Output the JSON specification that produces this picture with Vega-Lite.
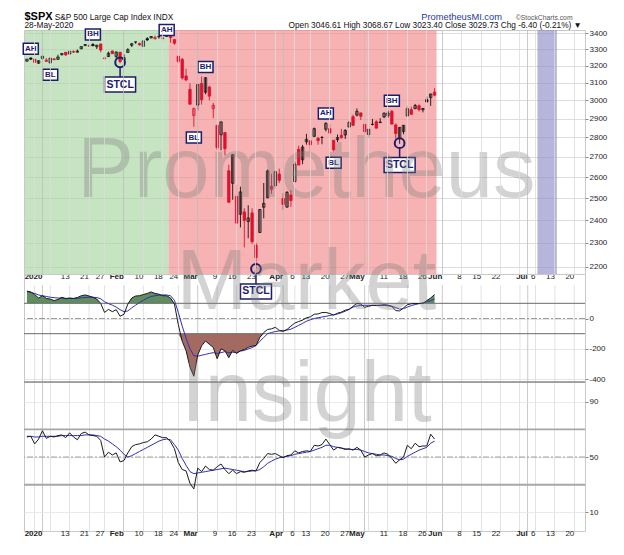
{
  "$schema": "https://vega.github.io/schema/vega-lite/v6.json",
  "background": "white",
  "padding": {"left": 19, "top": 9, "right": 2, "bottom": 2},
  "bounds": "flush",
  "spacing": 0,
  "datasets": {
    "spx": [
      {"d": "2019-12-26", "o": 3227.20, "h": 3240.08, "l": 3227.20, "c": 3239.91, "cci": 180, "ccim": 178, "rsi": 64.5, "rsim": 65},
      {"d": "2019-12-27", "o": 3247.23, "h": 3247.93, "l": 3234.37, "c": 3240.02, "cci": 175, "ccim": 172, "rsi": 65, "rsim": 65},
      {"d": "2019-12-30", "o": 3240.09, "h": 3240.92, "l": 3216.57, "c": 3221.29, "cci": 158, "ccim": 165, "rsi": 59.5, "rsim": 64.5},
      {"d": "2019-12-31", "o": 3215.18, "h": 3231.72, "l": 3212.03, "c": 3230.78, "cci": 135, "ccim": 155, "rsi": 63, "rsim": 64.5},
      {"d": "2020-01-02", "o": 3244.67, "h": 3258.14, "l": 3235.53, "c": 3257.85, "cci": 150, "ccim": 150, "rsi": 69, "rsim": 65},
      {"d": "2020-01-03", "o": 3226.36, "h": 3246.15, "l": 3222.34, "c": 3234.85, "cci": 132, "ccim": 145, "rsi": 63.5, "rsim": 65},
      {"d": "2020-01-06", "o": 3217.55, "h": 3246.84, "l": 3214.64, "c": 3246.28, "cci": 128, "ccim": 140, "rsi": 65, "rsim": 65},
      {"d": "2020-01-07", "o": 3241.86, "h": 3244.91, "l": 3232.43, "c": 3237.18, "cci": 118, "ccim": 137, "rsi": 64.5, "rsim": 65},
      {"d": "2020-01-08", "o": 3238.59, "h": 3267.07, "l": 3236.67, "c": 3253.05, "cci": 125, "ccim": 135, "rsi": 65.5, "rsim": 65},
      {"d": "2020-01-09", "o": 3266.03, "h": 3275.58, "l": 3263.67, "c": 3274.70, "cci": 140, "ccim": 134, "rsi": 66, "rsim": 65.5},
      {"d": "2020-01-10", "o": 3281.81, "h": 3282.99, "l": 3260.86, "c": 3265.35, "cci": 130, "ccim": 133, "rsi": 64, "rsim": 65.5},
      {"d": "2020-01-13", "o": 3271.13, "h": 3288.13, "l": 3268.43, "c": 3288.13, "cci": 135, "ccim": 132, "rsi": 67.5, "rsim": 65.5},
      {"d": "2020-01-14", "o": 3285.35, "h": 3294.25, "l": 3277.19, "c": 3283.15, "cci": 132, "ccim": 132, "rsi": 64.5, "rsim": 65.5},
      {"d": "2020-01-15", "o": 3282.27, "h": 3298.66, "l": 3280.69, "c": 3289.29, "cci": 138, "ccim": 133, "rsi": 62.5, "rsim": 65.5},
      {"d": "2020-01-16", "o": 3302.97, "h": 3317.11, "l": 3302.82, "c": 3316.81, "cci": 150, "ccim": 136, "rsi": 67, "rsim": 65.5},
      {"d": "2020-01-17", "o": 3323.66, "h": 3329.88, "l": 3318.86, "c": 3329.62, "cci": 155, "ccim": 138, "rsi": 68, "rsim": 66},
      {"d": "2020-01-21", "o": 3321.03, "h": 3329.79, "l": 3316.61, "c": 3320.79, "cci": 148, "ccim": 140, "rsi": 66, "rsim": 66},
      {"d": "2020-01-22", "o": 3330.02, "h": 3337.77, "l": 3320.04, "c": 3321.75, "cci": 140, "ccim": 140, "rsi": 65.5, "rsim": 66},
      {"d": "2020-01-23", "o": 3315.77, "h": 3326.88, "l": 3301.87, "c": 3325.54, "cci": 128, "ccim": 138, "rsi": 65, "rsim": 65.5},
      {"d": "2020-01-24", "o": 3333.10, "h": 3333.18, "l": 3281.53, "c": 3295.47, "cci": 100, "ccim": 130, "rsi": 62, "rsim": 65},
      {"d": "2020-01-27", "o": 3247.16, "h": 3258.85, "l": 3234.50, "c": 3243.63, "cci": 40, "ccim": 110, "rsi": 50, "rsim": 63},
      {"d": "2020-01-28", "o": 3255.35, "h": 3285.78, "l": 3253.22, "c": 3276.24, "cci": 60, "ccim": 98, "rsi": 53.5, "rsim": 61.5},
      {"d": "2020-01-29", "o": 3289.46, "h": 3293.47, "l": 3271.89, "c": 3273.40, "cci": 45, "ccim": 88, "rsi": 51.5, "rsim": 59.5},
      {"d": "2020-01-30", "o": 3256.45, "h": 3285.91, "l": 3242.80, "c": 3283.66, "cci": 58, "ccim": 75, "rsi": 53, "rsim": 57.5},
      {"d": "2020-01-31", "o": 3282.33, "h": 3282.33, "l": 3214.68, "c": 3225.52, "cci": 15, "ccim": 58, "rsi": 46.5, "rsim": 55},
      {"d": "2020-02-03", "o": 3235.66, "h": 3268.44, "l": 3235.66, "c": 3248.92, "cci": 28, "ccim": 45, "rsi": 47.5, "rsim": 52},
      {"d": "2020-02-04", "o": 3280.61, "h": 3306.92, "l": 3280.61, "c": 3297.59, "cci": 95, "ccim": 50, "rsi": 53, "rsim": 50},
      {"d": "2020-02-05", "o": 3324.91, "h": 3337.58, "l": 3313.75, "c": 3334.69, "cci": 135, "ccim": 70, "rsi": 57.5, "rsim": 51},
      {"d": "2020-02-06", "o": 3344.92, "h": 3347.96, "l": 3334.39, "c": 3345.78, "cci": 148, "ccim": 88, "rsi": 59, "rsim": 52.5},
      {"d": "2020-02-07", "o": 3335.54, "h": 3341.42, "l": 3322.12, "c": 3327.71, "cci": 150, "ccim": 105, "rsi": 59.5, "rsim": 54},
      {"d": "2020-02-10", "o": 3318.28, "h": 3352.26, "l": 3317.77, "c": 3352.09, "cci": 158, "ccim": 120, "rsi": 60.5, "rsim": 55.5},
      {"d": "2020-02-11", "o": 3365.87, "h": 3375.63, "l": 3352.72, "c": 3357.75, "cci": 165, "ccim": 135, "rsi": 61, "rsim": 57},
      {"d": "2020-02-12", "o": 3370.50, "h": 3381.47, "l": 3369.72, "c": 3379.45, "cci": 175, "ccim": 145, "rsi": 63, "rsim": 58.5},
      {"d": "2020-02-13", "o": 3365.90, "h": 3385.09, "l": 3360.52, "c": 3373.94, "cci": 165, "ccim": 150, "rsi": 66, "rsim": 60},
      {"d": "2020-02-14", "o": 3378.08, "h": 3380.69, "l": 3366.15, "c": 3380.16, "cci": 160, "ccim": 154, "rsi": 65, "rsim": 61.5},
      {"d": "2020-02-18", "o": 3369.04, "h": 3375.01, "l": 3355.61, "c": 3370.29, "cci": 150, "ccim": 155, "rsi": 64, "rsim": 62.5},
      {"d": "2020-02-19", "o": 3380.39, "h": 3393.52, "l": 3378.83, "c": 3386.15, "cci": 150, "ccim": 155, "rsi": 64, "rsim": 63},
      {"d": "2020-02-20", "o": 3380.45, "h": 3389.15, "l": 3341.02, "c": 3373.23, "cci": 135, "ccim": 150, "rsi": 61, "rsim": 62.5},
      {"d": "2020-02-21", "o": 3360.50, "h": 3360.76, "l": 3328.45, "c": 3337.75, "cci": 95, "ccim": 120, "rsi": 56, "rsim": 59},
      {"d": "2020-02-24", "o": 3257.61, "h": 3259.81, "l": 3214.65, "c": 3225.89, "cci": -40, "ccim": 40, "rsi": 46, "rsim": 55},
      {"d": "2020-02-25", "o": 3238.94, "h": 3246.99, "l": 3118.77, "c": 3128.21, "cci": -150, "ccim": -50, "rsi": 41, "rsim": 49},
      {"d": "2020-02-26", "o": 3139.90, "h": 3182.51, "l": 3108.99, "c": 3116.39, "cci": -212, "ccim": -130, "rsi": 40, "rsim": 44},
      {"d": "2020-02-27", "o": 3062.54, "h": 3097.07, "l": 2977.39, "c": 2978.76, "cci": -320, "ccim": -200, "rsi": 31, "rsim": 39.5},
      {"d": "2020-02-28", "o": 2916.90, "h": 2959.72, "l": 2855.84, "c": 2954.22, "cci": -380, "ccim": -245, "rsi": 27, "rsim": 38},
      {"d": "2020-03-02", "o": 2974.28, "h": 3090.96, "l": 2945.19, "c": 3090.23, "cci": -240, "ccim": -248, "rsi": 42, "rsim": 38.5},
      {"d": "2020-03-03", "o": 3096.46, "h": 3136.72, "l": 2976.63, "c": 3003.37, "cci": -180, "ccim": -242, "rsi": 39.5, "rsim": 39},
      {"d": "2020-03-04", "o": 3045.75, "h": 3130.97, "l": 3034.38, "c": 3130.12, "cci": -148, "ccim": -236, "rsi": 43.5, "rsim": 39.5},
      {"d": "2020-03-05", "o": 3075.70, "h": 3083.04, "l": 2999.83, "c": 3023.94, "cci": -170, "ccim": -230, "rsi": 41, "rsim": 40},
      {"d": "2020-03-06", "o": 2954.20, "h": 2985.93, "l": 2901.54, "c": 2972.37, "cci": -190, "ccim": -225, "rsi": 40.5, "rsim": 40.5},
      {"d": "2020-03-09", "o": 2863.89, "h": 2863.89, "l": 2734.43, "c": 2746.56, "cci": -265, "ccim": -230, "rsi": 43, "rsim": 41},
      {"d": "2020-03-10", "o": 2813.48, "h": 2882.59, "l": 2734.00, "c": 2882.23, "cci": -200, "ccim": -225, "rsi": 45, "rsim": 41.5},
      {"d": "2020-03-11", "o": 2825.60, "h": 2825.60, "l": 2707.22, "c": 2741.38, "cci": -212, "ccim": -218, "rsi": 41, "rsim": 42},
      {"d": "2020-03-12", "o": 2630.86, "h": 2660.95, "l": 2478.86, "c": 2480.64, "cci": -258, "ccim": -225, "rsi": 38, "rsim": 41.5},
      {"d": "2020-03-13", "o": 2569.99, "h": 2711.33, "l": 2492.37, "c": 2711.02, "cci": -210, "ccim": -222, "rsi": 40.5, "rsim": 41},
      {"d": "2020-03-16", "o": 2508.59, "h": 2562.98, "l": 2380.94, "c": 2386.13, "cci": -230, "ccim": -225, "rsi": 38, "rsim": 40.5},
      {"d": "2020-03-17", "o": 2425.66, "h": 2553.93, "l": 2367.04, "c": 2529.19, "cci": -212, "ccim": -215, "rsi": 39.5, "rsim": 40},
      {"d": "2020-03-18", "o": 2436.50, "h": 2453.57, "l": 2280.52, "c": 2398.10, "cci": -205, "ccim": -210, "rsi": 39, "rsim": 39.5},
      {"d": "2020-03-19", "o": 2393.48, "h": 2466.97, "l": 2319.78, "c": 2409.39, "cci": -190, "ccim": -200, "rsi": 40, "rsim": 39.5},
      {"d": "2020-03-20", "o": 2431.94, "h": 2453.01, "l": 2295.56, "c": 2304.92, "cci": -182, "ccim": -192, "rsi": 40.5, "rsim": 40},
      {"d": "2020-03-23", "o": 2290.71, "h": 2300.73, "l": 2191.86, "c": 2237.40, "cci": -178, "ccim": -178, "rsi": 40, "rsim": 40},
      {"d": "2020-03-24", "o": 2344.44, "h": 2449.71, "l": 2344.44, "c": 2447.33, "cci": -125, "ccim": -150, "rsi": 46, "rsim": 41},
      {"d": "2020-03-25", "o": 2457.77, "h": 2571.42, "l": 2407.53, "c": 2475.56, "cci": -92, "ccim": -125, "rsi": 49, "rsim": 43},
      {"d": "2020-03-26", "o": 2501.29, "h": 2637.01, "l": 2500.72, "c": 2630.07, "cci": -72, "ccim": -100, "rsi": 52.5, "rsim": 45.5},
      {"d": "2020-03-27", "o": 2555.87, "h": 2615.91, "l": 2520.02, "c": 2541.47, "cci": -68, "ccim": -92, "rsi": 52, "rsim": 47},
      {"d": "2020-03-30", "o": 2558.98, "h": 2631.80, "l": 2545.28, "c": 2626.65, "cci": -58, "ccim": -86, "rsi": 52.5, "rsim": 48.5},
      {"d": "2020-03-31", "o": 2614.69, "h": 2641.39, "l": 2571.15, "c": 2584.59, "cci": -78, "ccim": -82, "rsi": 51, "rsim": 49.5},
      {"d": "2020-04-01", "o": 2498.08, "h": 2522.75, "l": 2447.49, "c": 2470.50, "cci": -85, "ccim": -80, "rsi": 49.5, "rsim": 50},
      {"d": "2020-04-02", "o": 2458.54, "h": 2533.22, "l": 2455.79, "c": 2526.90, "cci": -72, "ccim": -76, "rsi": 51, "rsim": 50.5},
      {"d": "2020-04-03", "o": 2514.92, "h": 2538.18, "l": 2459.96, "c": 2488.65, "cci": -50, "ccim": -70, "rsi": 51.5, "rsim": 51},
      {"d": "2020-04-06", "o": 2578.28, "h": 2676.85, "l": 2574.57, "c": 2663.68, "cci": -30, "ccim": -58, "rsi": 54.5, "rsim": 52},
      {"d": "2020-04-07", "o": 2738.65, "h": 2756.89, "l": 2657.67, "c": 2659.41, "cci": -20, "ccim": -45, "rsi": 53, "rsim": 52.5},
      {"d": "2020-04-08", "o": 2685.00, "h": 2760.75, "l": 2663.30, "c": 2749.98, "cci": -11, "ccim": -32, "rsi": 54, "rsim": 53},
      {"d": "2020-04-09", "o": 2776.99, "h": 2818.57, "l": 2762.36, "c": 2789.82, "cci": 5, "ccim": -18, "rsi": 54.5, "rsim": 53.5},
      {"d": "2020-04-13", "o": 2782.46, "h": 2782.46, "l": 2721.17, "c": 2761.63, "cci": 11, "ccim": -8, "rsi": 54, "rsim": 54},
      {"d": "2020-04-14", "o": 2805.10, "h": 2851.85, "l": 2805.10, "c": 2846.06, "cci": 28, "ccim": 0, "rsi": 58.5, "rsim": 55},
      {"d": "2020-04-15", "o": 2795.64, "h": 2801.88, "l": 2761.54, "c": 2783.36, "cci": 30, "ccim": 5, "rsi": 58, "rsim": 56},
      {"d": "2020-04-16", "o": 2799.34, "h": 2806.51, "l": 2764.32, "c": 2799.55, "cci": 39, "ccim": 10, "rsi": 59, "rsim": 57},
      {"d": "2020-04-17", "o": 2842.43, "h": 2879.22, "l": 2830.88, "c": 2874.56, "cci": 40, "ccim": 14, "rsi": 63, "rsim": 58.5},
      {"d": "2020-04-20", "o": 2845.62, "h": 2868.98, "l": 2820.43, "c": 2823.16, "cci": 33, "ccim": 20, "rsi": 59, "rsim": 58.5},
      {"d": "2020-04-21", "o": 2784.81, "h": 2785.54, "l": 2727.10, "c": 2736.56, "cci": 22, "ccim": 25, "rsi": 55, "rsim": 57.5},
      {"d": "2020-04-22", "o": 2787.89, "h": 2815.10, "l": 2775.95, "c": 2799.31, "cci": 35, "ccim": 30, "rsi": 57, "rsim": 57},
      {"d": "2020-04-23", "o": 2810.42, "h": 2844.90, "l": 2794.26, "c": 2797.80, "cci": 42, "ccim": 38, "rsi": 56.5, "rsim": 56.5},
      {"d": "2020-04-24", "o": 2812.64, "h": 2842.71, "l": 2791.76, "c": 2836.74, "cci": 55, "ccim": 48, "rsi": 55.5, "rsim": 56},
      {"d": "2020-04-27", "o": 2854.65, "h": 2887.72, "l": 2852.89, "c": 2878.48, "cci": 61, "ccim": 60, "rsi": 56, "rsim": 55.5},
      {"d": "2020-04-28", "o": 2909.96, "h": 2921.15, "l": 2860.71, "c": 2863.39, "cci": 80, "ccim": 75, "rsi": 55, "rsim": 55.5},
      {"d": "2020-04-29", "o": 2918.46, "h": 2954.86, "l": 2912.16, "c": 2939.51, "cci": 99, "ccim": 82, "rsi": 57, "rsim": 55.5},
      {"d": "2020-04-30", "o": 2930.91, "h": 2930.91, "l": 2892.47, "c": 2912.43, "cci": 95, "ccim": 86, "rsi": 55, "rsim": 55},
      {"d": "2020-05-01", "o": 2869.09, "h": 2869.09, "l": 2821.61, "c": 2830.71, "cci": 74, "ccim": 87, "rsi": 50, "rsim": 54},
      {"d": "2020-05-04", "o": 2815.01, "h": 2844.24, "l": 2797.85, "c": 2842.74, "cci": 80, "ccim": 87, "rsi": 51.5, "rsim": 53},
      {"d": "2020-05-05", "o": 2868.88, "h": 2898.23, "l": 2863.55, "c": 2868.44, "cci": 87, "ccim": 87, "rsi": 52.5, "rsim": 52.5},
      {"d": "2020-05-06", "o": 2883.14, "h": 2891.11, "l": 2847.65, "c": 2848.42, "cci": 85, "ccim": 87, "rsi": 51, "rsim": 52},
      {"d": "2020-05-07", "o": 2878.26, "h": 2901.92, "l": 2876.48, "c": 2881.19, "cci": 87, "ccim": 87, "rsi": 51.5, "rsim": 51.5},
      {"d": "2020-05-08", "o": 2908.83, "h": 2932.16, "l": 2902.88, "c": 2929.80, "cci": 91, "ccim": 86, "rsi": 53, "rsim": 51.5},
      {"d": "2020-05-11", "o": 2915.46, "h": 2944.25, "l": 2903.44, "c": 2930.32, "cci": 88, "ccim": 84, "rsi": 52, "rsim": 51},
      {"d": "2020-05-12", "o": 2939.50, "h": 2945.82, "l": 2869.59, "c": 2870.12, "cci": 80, "ccim": 80, "rsi": 49, "rsim": 50.5},
      {"d": "2020-05-13", "o": 2865.86, "h": 2874.14, "l": 2793.15, "c": 2820.00, "cci": 52, "ccim": 72, "rsi": 45.5, "rsim": 49},
      {"d": "2020-05-14", "o": 2794.54, "h": 2852.80, "l": 2766.64, "c": 2852.50, "cci": 50, "ccim": 62, "rsi": 48, "rsim": 48},
      {"d": "2020-05-15", "o": 2829.95, "h": 2865.01, "l": 2816.78, "c": 2863.70, "cci": 70, "ccim": 65, "rsi": 50, "rsim": 48.5},
      {"d": "2020-05-18", "o": 2913.86, "h": 2968.09, "l": 2913.86, "c": 2953.91, "cci": 91, "ccim": 75, "rsi": 58.5, "rsim": 50.5},
      {"d": "2020-05-19", "o": 2948.59, "h": 2964.21, "l": 2922.35, "c": 2922.94, "cci": 97, "ccim": 85, "rsi": 56, "rsim": 52},
      {"d": "2020-05-20", "o": 2953.63, "h": 2980.29, "l": 2953.63, "c": 2971.61, "cci": 99, "ccim": 92, "rsi": 60, "rsim": 53.5},
      {"d": "2020-05-21", "o": 2969.95, "h": 2978.50, "l": 2938.57, "c": 2948.51, "cci": 98, "ccim": 98, "rsi": 57.5, "rsim": 55},
      {"d": "2020-05-22", "o": 2948.05, "h": 2956.76, "l": 2933.59, "c": 2955.45, "cci": 100, "ccim": 102, "rsi": 58, "rsim": 56},
      {"d": "2020-05-26", "o": 3004.08, "h": 3021.72, "l": 2988.17, "c": 2991.77, "cci": 118, "ccim": 110, "rsi": 58, "rsim": 57},
      {"d": "2020-05-27", "o": 3015.65, "h": 3036.25, "l": 2969.75, "c": 3036.13, "cci": 135, "ccim": 118, "rsi": 66.5, "rsim": 60},
      {"d": "2020-05-28", "o": 3046.61, "h": 3068.67, "l": 3023.40, "c": 3029.73, "cci": 158, "ccim": 128, "rsi": 63, "rsim": 61.5}
    ],
    "ticks": [
      {"d": "2019-12-30"}, {"d": "2020-01-02"}, {"d": "2020-01-06"}, {"d": "2020-01-13"}, {"d": "2020-01-21"}, {"d": "2020-01-27"},
      {"d": "2020-02-03"}, {"d": "2020-02-10"}, {"d": "2020-02-18"}, {"d": "2020-02-24"}, {"d": "2020-03-02"}, {"d": "2020-03-09"},
      {"d": "2020-03-16"}, {"d": "2020-03-23"}, {"d": "2020-03-30"}, {"d": "2020-04-01"}, {"d": "2020-04-06"}, {"d": "2020-04-13"},
      {"d": "2020-04-20"}, {"d": "2020-04-27"}, {"d": "2020-05-01"}, {"d": "2020-05-04"}, {"d": "2020-05-11"}, {"d": "2020-05-18"},
      {"d": "2020-05-26"}, {"d": "2020-06-01"}, {"d": "2020-06-08"}, {"d": "2020-06-15"}, {"d": "2020-06-22"}, {"d": "2020-06-29"},
      {"d": "2020-07-01"}, {"d": "2020-07-06"}, {"d": "2020-07-13"}, {"d": "2020-07-20"}
    ],
    "ann": [
      {"d": "2019-12-27", "t": "AH", "v": 3303},
      {"d": "2020-01-06", "t": "BL", "v": 3147},
      {"d": "2020-01-22", "t": "BH", "v": 3393},
      {"d": "2020-01-31", "t": "STCL", "v": 3090, "cv": 3221, "sv": 3188},
      {"d": "2020-02-19", "t": "AH", "v": 3421},
      {"d": "2020-02-28", "t": "BL", "v": 2799},
      {"d": "2020-03-04", "t": "BH", "v": 3193},
      {"d": "2020-03-23", "t": "STCL", "cv": 2191},
      {"d": "2020-04-17", "t": "AH", "v": 2928},
      {"d": "2020-04-21", "t": "BL", "v": 2670},
      {"d": "2020-05-12", "t": "BH", "v": 2998},
      {"d": "2020-05-14", "t": "STCL", "v": 2659, "cv": 2770, "sv": 2742}
    ],
    "ann2": [
      {"d": "2020-03-23", "t": "STCL", "v": 178, "sv": 292}
    ]
  },
  "vconcat": [
    {
      "width": 561,
      "height": 244,
      "data": {"name": "spx"},
      "transform": [{"window": [{"op": "lag", "field": "c", "as": "pc"}], "sort": [{"field": "d", "order": "ascending"}]}],
      "layer": [
        {
          "data": {"values": [
            {"s": "2019-12-26", "e": "2020-02-19", "k": "bull"},
            {"s": "2020-02-20", "e": "2020-05-28", "k": "bear"},
            {"s": "2020-07-07", "e": "2020-07-13", "k": "watch"}
          ]},
          "mark": {"type": "rect", "opacity": 0.65},
          "encoding": {
            "x": {"field": "s", "type": "ordinal", "bandPosition": 0},
            "x2": {"field": "e", "bandPosition": 1},
            "fill": {"field": "k", "type": "nominal", "legend": null,
              "scale": {"domain": ["bull", "bear", "watch"], "range": ["#a8d5a0", "#f38a8a", "#8f8fca"]}}
          }
        },
        {
          "mark": {"type": "rule", "strokeWidth": 0.9},
          "encoding": {
            "x": {
              "field": "d", "type": "ordinal",
              "scale": {"type": "band", "paddingInner": 0, "paddingOuter": 0.25, "domain": [
                "2019-12-26","2019-12-27","2019-12-30","2019-12-31",
                "2020-01-02","2020-01-03","2020-01-06","2020-01-07","2020-01-08","2020-01-09","2020-01-10","2020-01-13","2020-01-14","2020-01-15","2020-01-16","2020-01-17","2020-01-21","2020-01-22","2020-01-23","2020-01-24","2020-01-27","2020-01-28","2020-01-29","2020-01-30","2020-01-31",
                "2020-02-03","2020-02-04","2020-02-05","2020-02-06","2020-02-07","2020-02-10","2020-02-11","2020-02-12","2020-02-13","2020-02-14","2020-02-18","2020-02-19","2020-02-20","2020-02-21","2020-02-24","2020-02-25","2020-02-26","2020-02-27","2020-02-28",
                "2020-03-02","2020-03-03","2020-03-04","2020-03-05","2020-03-06","2020-03-09","2020-03-10","2020-03-11","2020-03-12","2020-03-13","2020-03-16","2020-03-17","2020-03-18","2020-03-19","2020-03-20","2020-03-23","2020-03-24","2020-03-25","2020-03-26","2020-03-27","2020-03-30","2020-03-31",
                "2020-04-01","2020-04-02","2020-04-03","2020-04-06","2020-04-07","2020-04-08","2020-04-09","2020-04-13","2020-04-14","2020-04-15","2020-04-16","2020-04-17","2020-04-20","2020-04-21","2020-04-22","2020-04-23","2020-04-24","2020-04-27","2020-04-28","2020-04-29","2020-04-30",
                "2020-05-01","2020-05-04","2020-05-05","2020-05-06","2020-05-07","2020-05-08","2020-05-11","2020-05-12","2020-05-13","2020-05-14","2020-05-15","2020-05-18","2020-05-19","2020-05-20","2020-05-21","2020-05-22","2020-05-26","2020-05-27","2020-05-28","2020-05-29",
                "2020-06-01","2020-06-02","2020-06-03","2020-06-04","2020-06-05","2020-06-08","2020-06-09","2020-06-10","2020-06-11","2020-06-12","2020-06-15","2020-06-16","2020-06-17","2020-06-18","2020-06-19","2020-06-22","2020-06-23","2020-06-24","2020-06-25","2020-06-26","2020-06-29","2020-06-30",
                "2020-07-01","2020-07-02","2020-07-06","2020-07-07","2020-07-08","2020-07-09","2020-07-10","2020-07-13","2020-07-14","2020-07-15","2020-07-16","2020-07-17","2020-07-20","2020-07-21","2020-07-22"
              ]},
              "axis": {
                "orient": "bottom", "bandPosition": 0.5,
                "title": "$SPX", "titleX": 0, "titleY": -255, "titleAlign": "left", "titleBaseline": "alphabetic",
                "titleFontSize": 11, "titleFontWeight": "bold", "titleColor": "#000000",
                "values": ["2019-12-30","2020-01-02","2020-01-06","2020-01-13","2020-01-21","2020-01-27","2020-02-03","2020-02-10","2020-02-18","2020-02-24","2020-03-02","2020-03-09","2020-03-16","2020-03-23","2020-03-30","2020-04-01","2020-04-06","2020-04-13","2020-04-20","2020-04-27","2020-05-01","2020-05-04","2020-05-11","2020-05-18","2020-05-26","2020-06-01","2020-06-08","2020-06-15","2020-06-22","2020-06-29","2020-07-01","2020-07-06","2020-07-13","2020-07-20"],
                "labelExpr": "indexof(['2020-01-02','2020-02-03','2020-03-02','2020-04-01','2020-05-01','2020-06-01','2020-07-01'], datum.value) >= 0 ? ['2020','Feb','Mar','Apr','May','Jun','Jul'][indexof(['2020-01-02','2020-02-03','2020-03-02','2020-04-01','2020-05-01','2020-06-01','2020-07-01'], datum.value)] : indexof(['2019-12-30','2020-01-06','2020-03-30','2020-05-04','2020-06-29'], datum.value) >= 0 ? '' : '' + toNumber(substring(datum.value, 8, 10))",
                "labelFontWeight": {"condition": {"test": "indexof(['2020-01-02','2020-02-03','2020-03-02','2020-04-01','2020-05-01','2020-06-01','2020-07-01'], datum.value) >= 0", "value": "bold"}, "value": "normal"},
                "labelAngle": 0, "labelOverlap": false, "labelPadding": 2, "ticks": false, "domain": false, "grid": true,
                "gridColor": {"condition": {"test": "indexof(['2020-01-02','2020-02-03','2020-03-02','2020-04-01','2020-05-01','2020-06-01','2020-07-01'], datum.value) >= 0", "value": "#bcbcbc"}, "value": "#dcdcdc"}
              }
            },
            "y": {
              "field": "l", "type": "quantitative",
              "scale": {"type": "log", "domain": [2170, 3421], "nice": false},
              "axis": {"orient": "right", "values": [2200, 2300, 2400, 2500, 2600, 2700, 2800, 2900, 3000, 3100, 3200, 3300, 3400],
                "labelExpr": "'' + datum.value", "tickSize": 3, "labelPadding": 1, "grid": true, "gridColor": "#d4d4d4", "labelOverlap": false,
                "title": "©StockCharts.com", "titleAngle": 0, "titleX": -69.7, "titleY": -11, "titleAlign": "left", "titleBaseline": "alphabetic",
                "titleFontSize": 6.8, "titleFontWeight": "normal", "titleColor": "#555555"}
            },
            "y2": {"field": "h"},
            "color": {"condition": {"test": "datum.c < datum.pc", "value": "#e0102e"}, "value": "#111111"}
          }
        },
        {
          "mark": {"type": "bar", "width": {"band": 0.62}, "strokeWidth": 0.8},
          "encoding": {
            "x": {"field": "d", "type": "ordinal"},
            "y": {"field": "o", "type": "quantitative"},
            "y2": {"field": "c"},
            "fill": {"condition": [
              {"test": "datum.c < datum.o && datum.c < datum.pc", "value": "#e0102e"},
              {"test": "datum.c < datum.o", "value": "#111111"}
            ], "value": "transparent"},
            "stroke": {"condition": {"test": "datum.c < datum.pc", "value": "#e0102e"}, "value": "#111111"}
          }
        },
        {
          "data": {"name": "ann"},
          "transform": [{"filter": "isValid(datum.sv)"}],
          "mark": {"type": "rule", "color": "#1c1c6c", "strokeWidth": 1.5},
          "encoding": {
            "x": {"field": "d", "type": "ordinal"},
            "y": {"field": "sv", "type": "quantitative"},
            "y2": {"field": "v"}
          }
        },
        {
          "data": {"name": "ann"},
          "transform": [{"filter": "isValid(datum.cv)"}],
          "mark": {"type": "point", "shape": "circle", "size": 95, "filled": false, "stroke": "#1c1c6c", "strokeWidth": 2, "opacity": 1},
          "encoding": {
            "x": {"field": "d", "type": "ordinal"},
            "y": {"field": "cv", "type": "quantitative"}
          }
        },
        {
          "data": {"name": "ann"},
          "transform": [{"filter": "isValid(datum.v)"}],
          "mark": {"type": "point", "filled": true, "fill": "white", "stroke": "#1c1c6c", "strokeWidth": 1.5, "opacity": 1},
          "encoding": {
            "x": {"field": "d", "type": "ordinal"},
            "y": {"field": "v", "type": "quantitative"},
            "shape": {"condition": {"test": "datum.t == 'STCL'", "value": "M-2.067,-1H2.067V1H-2.067Z"}, "value": "M-1.364,-1H1.364V1H-1.364Z"},
            "size": {"condition": {"test": "datum.t == 'STCL'", "value": 225}, "value": 121}
          }
        },
        {
          "data": {"name": "ann"},
          "transform": [{"filter": "isValid(datum.v)"}],
          "mark": {"type": "text", "fontWeight": "bold", "color": "#1c1c6c", "baseline": "middle", "align": "center"},
          "encoding": {
            "x": {"field": "d", "type": "ordinal"},
            "y": {"field": "v", "type": "quantitative"},
            "text": {"field": "t"},
            "size": {"condition": {"test": "datum.t == 'STCL'", "value": 10.5}, "value": 8}
          }
        },
        {
          "data": {"values": [{"w": "Prometheus"}]},
          "mark": {"type": "text", "fontSize": 85, "color": "#808080", "opacity": 0.34, "align": "center", "baseline": "alphabetic"},
          "encoding": {
            "x": {"datum": "2020-04-09", "type": "ordinal"},
            "y": {"datum": 2505, "type": "quantitative"},
            "text": {"field": "w"}
          }
        }
      ]
    },
    {
      "width": 561,
      "height": 108,
      "data": {"name": "spx"},
      "layer": [
        {
          "data": {"name": "ticks"},
          "mark": {"type": "rule", "strokeWidth": 0.8},
          "encoding": {
            "x": {"field": "d", "type": "ordinal"},
            "y": {"datum": 220, "type": "quantitative"},
            "y2": {"datum": -418},
            "color": {"condition": {"test": "indexof(['2020-01-02','2020-02-03','2020-03-02','2020-04-01','2020-05-01','2020-06-01','2020-07-01'], datum.d) >= 0", "value": "#bcbcbc"}, "value": "#dcdcdc"}
          }
        },
        {
          "transform": [{"calculate": "max(datum.cci, 100)", "as": "up"}],
          "mark": {"type": "area", "color": "#5f8d5f"},
          "encoding": {
            "x": {"field": "d", "type": "ordinal"},
            "y": {"field": "up", "type": "quantitative"},
            "y2": {"datum": 100}
          }
        },
        {
          "transform": [{"calculate": "min(datum.cci, -100)", "as": "dn"}],
          "mark": {"type": "area", "color": "#a36a62"},
          "encoding": {
            "x": {"field": "d", "type": "ordinal"},
            "y": {"field": "dn", "type": "quantitative"},
            "y2": {"datum": -100}
          }
        },
        {
          "data": {"values": [{"v": 100}, {"v": -100}]},
          "mark": {"type": "rule", "color": "#6a6a6a", "strokeWidth": 1},
          "encoding": {"y": {"field": "v", "type": "quantitative"}}
        },
        {
          "data": {"values": [{"v": 0}]},
          "mark": {"type": "rule", "color": "#9c9c9c", "strokeWidth": 1, "strokeDash": [6, 2, 2, 2]},
          "encoding": {"y": {"field": "v", "type": "quantitative"}}
        },
        {
          "mark": {"type": "line", "color": "#2f2fb8", "strokeWidth": 1},
          "encoding": {
            "x": {"field": "d", "type": "ordinal"},
            "y": {"field": "ccim", "type": "quantitative"}
          }
        },
        {
          "mark": {"type": "line", "color": "#1a1a1a", "strokeWidth": 1},
          "encoding": {
            "x": {
              "field": "d", "type": "ordinal",
              "axis": {"orient": "bottom", "labels": true, "labelExpr": "''", "ticks": false, "domain": true, "domainOpacity": 0, "grid": false,
                "title": "S&P 500 Large Cap Index  INDX", "titleX": 30.3, "titleY": -363, "titleAlign": "left", "titleBaseline": "alphabetic",
                "titleFontSize": 8.3, "titleFontWeight": "normal", "titleColor": "#111111"},
              "scale": {"type": "band", "paddingInner": 0, "paddingOuter": 0.25, "domain": [
                "2019-12-26","2019-12-27","2019-12-30","2019-12-31",
                "2020-01-02","2020-01-03","2020-01-06","2020-01-07","2020-01-08","2020-01-09","2020-01-10","2020-01-13","2020-01-14","2020-01-15","2020-01-16","2020-01-17","2020-01-21","2020-01-22","2020-01-23","2020-01-24","2020-01-27","2020-01-28","2020-01-29","2020-01-30","2020-01-31",
                "2020-02-03","2020-02-04","2020-02-05","2020-02-06","2020-02-07","2020-02-10","2020-02-11","2020-02-12","2020-02-13","2020-02-14","2020-02-18","2020-02-19","2020-02-20","2020-02-21","2020-02-24","2020-02-25","2020-02-26","2020-02-27","2020-02-28",
                "2020-03-02","2020-03-03","2020-03-04","2020-03-05","2020-03-06","2020-03-09","2020-03-10","2020-03-11","2020-03-12","2020-03-13","2020-03-16","2020-03-17","2020-03-18","2020-03-19","2020-03-20","2020-03-23","2020-03-24","2020-03-25","2020-03-26","2020-03-27","2020-03-30","2020-03-31",
                "2020-04-01","2020-04-02","2020-04-03","2020-04-06","2020-04-07","2020-04-08","2020-04-09","2020-04-13","2020-04-14","2020-04-15","2020-04-16","2020-04-17","2020-04-20","2020-04-21","2020-04-22","2020-04-23","2020-04-24","2020-04-27","2020-04-28","2020-04-29","2020-04-30",
                "2020-05-01","2020-05-04","2020-05-05","2020-05-06","2020-05-07","2020-05-08","2020-05-11","2020-05-12","2020-05-13","2020-05-14","2020-05-15","2020-05-18","2020-05-19","2020-05-20","2020-05-21","2020-05-22","2020-05-26","2020-05-27","2020-05-28","2020-05-29",
                "2020-06-01","2020-06-02","2020-06-03","2020-06-04","2020-06-05","2020-06-08","2020-06-09","2020-06-10","2020-06-11","2020-06-12","2020-06-15","2020-06-16","2020-06-17","2020-06-18","2020-06-19","2020-06-22","2020-06-23","2020-06-24","2020-06-25","2020-06-26","2020-06-29","2020-06-30",
                "2020-07-01","2020-07-02","2020-07-06","2020-07-07","2020-07-08","2020-07-09","2020-07-10","2020-07-13","2020-07-14","2020-07-15","2020-07-16","2020-07-17","2020-07-20","2020-07-21","2020-07-22"
              ]}
            },
            "y": {
              "field": "cci", "type": "quantitative",
              "scale": {"domain": [-418, 293], "nice": false, "zero": false},
              "axis": {"orient": "right", "values": [100, 0, -100, -200, -300, -400], "labelExpr": "'' + datum.value",
                "tickSize": 3, "labelPadding": 1, "grid": true, "gridColor": "#e0e0e0",
                "title": "28-May-2020", "titleAngle": 0, "titleX": -561, "titleY": -246.5, "titleAlign": "left", "titleBaseline": "alphabetic",
                "titleFontSize": 8.3, "titleFontWeight": "normal", "titleColor": "#111111"}
            }
          }
        },
        {
          "data": {"name": "ann2"},
          "mark": {"type": "rule", "color": "#1c1c6c", "strokeWidth": 1.5},
          "encoding": {
            "x": {"field": "d", "type": "ordinal"},
            "y": {"field": "sv", "type": "quantitative"},
            "y2": {"field": "v"}
          }
        },
        {
          "data": {"name": "ann2"},
          "mark": {"type": "point", "filled": true, "fill": "white", "stroke": "#1c1c6c", "strokeWidth": 1.5, "opacity": 1,
            "shape": "M-2.067,-1H2.067V1H-2.067Z", "size": 225},
          "encoding": {
            "x": {"field": "d", "type": "ordinal"},
            "y": {"field": "v", "type": "quantitative"}
          }
        },
        {
          "data": {"name": "ann2"},
          "mark": {"type": "text", "fontWeight": "bold", "fontSize": 10.5, "color": "#1c1c6c", "baseline": "middle", "align": "center"},
          "encoding": {
            "x": {"field": "d", "type": "ordinal"},
            "y": {"field": "v", "type": "quantitative"},
            "text": {"field": "t"}
          }
        },
        {
          "data": {"values": [{"w": "Market"}]},
          "mark": {"type": "text", "fontSize": 85, "color": "#808080", "opacity": 0.34, "align": "center", "baseline": "alphabetic"},
          "encoding": {
            "x": {"datum": "2020-04-09", "type": "ordinal"},
            "y": {"datum": 63, "type": "quantitative"},
            "text": {"field": "w"}
          }
        }
      ]
    },
    {
      "width": 561,
      "height": 149,
      "data": {"name": "spx"},
      "layer": [
        {
          "data": {"values": [{"v": 70}, {"v": 30}]},
          "mark": {"type": "rule", "color": "#a6a6a6", "strokeWidth": 1.8},
          "encoding": {"y": {"field": "v", "type": "quantitative"}}
        },
        {
          "data": {"values": [{"v": 50}]},
          "mark": {"type": "rule", "color": "#9c9c9c", "strokeWidth": 1, "strokeDash": [6, 2, 2, 2]},
          "encoding": {"y": {"field": "v", "type": "quantitative"}}
        },
        {
          "data": {"values": [{"v": 104.2}]},
          "mark": {"type": "rule", "color": "#8c8c8c", "strokeWidth": 1.5},
          "encoding": {"y": {"field": "v", "type": "quantitative"}}
        },
        {
          "mark": {"type": "line", "color": "#2f2fb8", "strokeWidth": 1},
          "encoding": {
            "x": {"field": "d", "type": "ordinal"},
            "y": {"field": "rsim", "type": "quantitative"}
          }
        },
        {
          "mark": {"type": "line", "color": "#1a1a1a", "strokeWidth": 1},
          "encoding": {
            "x": {
              "field": "d", "type": "ordinal",
              "scale": {"type": "band", "paddingInner": 0, "paddingOuter": 0.25, "domain": [
                "2019-12-26","2019-12-27","2019-12-30","2019-12-31",
                "2020-01-02","2020-01-03","2020-01-06","2020-01-07","2020-01-08","2020-01-09","2020-01-10","2020-01-13","2020-01-14","2020-01-15","2020-01-16","2020-01-17","2020-01-21","2020-01-22","2020-01-23","2020-01-24","2020-01-27","2020-01-28","2020-01-29","2020-01-30","2020-01-31",
                "2020-02-03","2020-02-04","2020-02-05","2020-02-06","2020-02-07","2020-02-10","2020-02-11","2020-02-12","2020-02-13","2020-02-14","2020-02-18","2020-02-19","2020-02-20","2020-02-21","2020-02-24","2020-02-25","2020-02-26","2020-02-27","2020-02-28",
                "2020-03-02","2020-03-03","2020-03-04","2020-03-05","2020-03-06","2020-03-09","2020-03-10","2020-03-11","2020-03-12","2020-03-13","2020-03-16","2020-03-17","2020-03-18","2020-03-19","2020-03-20","2020-03-23","2020-03-24","2020-03-25","2020-03-26","2020-03-27","2020-03-30","2020-03-31",
                "2020-04-01","2020-04-02","2020-04-03","2020-04-06","2020-04-07","2020-04-08","2020-04-09","2020-04-13","2020-04-14","2020-04-15","2020-04-16","2020-04-17","2020-04-20","2020-04-21","2020-04-22","2020-04-23","2020-04-24","2020-04-27","2020-04-28","2020-04-29","2020-04-30",
                "2020-05-01","2020-05-04","2020-05-05","2020-05-06","2020-05-07","2020-05-08","2020-05-11","2020-05-12","2020-05-13","2020-05-14","2020-05-15","2020-05-18","2020-05-19","2020-05-20","2020-05-21","2020-05-22","2020-05-26","2020-05-27","2020-05-28","2020-05-29",
                "2020-06-01","2020-06-02","2020-06-03","2020-06-04","2020-06-05","2020-06-08","2020-06-09","2020-06-10","2020-06-11","2020-06-12","2020-06-15","2020-06-16","2020-06-17","2020-06-18","2020-06-19","2020-06-22","2020-06-23","2020-06-24","2020-06-25","2020-06-26","2020-06-29","2020-06-30",
                "2020-07-01","2020-07-02","2020-07-06","2020-07-07","2020-07-08","2020-07-09","2020-07-10","2020-07-13","2020-07-14","2020-07-15","2020-07-16","2020-07-17","2020-07-20","2020-07-21","2020-07-22"
              ]},
              "axis": {
                "orient": "bottom", "bandPosition": 0.5,
                "title": "Open 3046.61  High 3068.67  Low 3023.40  Close 3029.73  Chg -6.40 (-0.21%) ▼", "titleX": 557.3, "titleY": -503.5,
                "titleAlign": "right", "titleBaseline": "alphabetic", "titleFontSize": 8.3, "titleFontWeight": "normal", "titleColor": "#111111",
                "values": ["2019-12-30","2020-01-02","2020-01-06","2020-01-13","2020-01-21","2020-01-27","2020-02-03","2020-02-10","2020-02-18","2020-02-24","2020-03-02","2020-03-09","2020-03-16","2020-03-23","2020-03-30","2020-04-01","2020-04-06","2020-04-13","2020-04-20","2020-04-27","2020-05-01","2020-05-04","2020-05-11","2020-05-18","2020-05-26","2020-06-01","2020-06-08","2020-06-15","2020-06-22","2020-06-29","2020-07-01","2020-07-06","2020-07-13","2020-07-20"],
                "labelExpr": "indexof(['2020-01-02','2020-02-03','2020-03-02','2020-04-01','2020-05-01','2020-06-01','2020-07-01'], datum.value) >= 0 ? ['2020','Feb','Mar','Apr','May','Jun','Jul'][indexof(['2020-01-02','2020-02-03','2020-03-02','2020-04-01','2020-05-01','2020-06-01','2020-07-01'], datum.value)] : indexof(['2019-12-30','2020-01-06','2020-03-30','2020-05-04','2020-06-29'], datum.value) >= 0 ? '' : '' + toNumber(substring(datum.value, 8, 10))",
                "labelFontWeight": {"condition": {"test": "indexof(['2020-01-02','2020-02-03','2020-03-02','2020-04-01','2020-05-01','2020-06-01','2020-07-01'], datum.value) >= 0", "value": "bold"}, "value": "normal"},
                "labelAngle": 0, "labelOverlap": false, "labelPadding": 2, "ticks": false, "domain": false, "grid": true,
                "gridColor": {"condition": {"test": "indexof(['2020-01-02','2020-02-03','2020-03-02','2020-04-01','2020-05-01','2020-06-01','2020-07-01'], datum.value) >= 0", "value": "#bcbcbc"}, "value": "#dcdcdc"}
              }
            },
            "y": {
              "field": "rsi", "type": "quantitative",
              "scale": {"domain": [-3.4, 104.2], "nice": false, "zero": false},
              "axis": {"orient": "right", "values": [10, 20, 30, 40, 50, 60, 70, 80, 90],
                "labelExpr": "datum.value % 20 == 10 ? '' + datum.value : ''", "tickSize": 3, "labelPadding": 1, "grid": true, "gridColor": "#e4e4e4",
                "title": "PrometheusMI.com", "titleAngle": 0, "titleX": -164.2, "titleY": -363, "titleAlign": "left", "titleBaseline": "alphabetic",
                "titleFontSize": 9.3, "titleFontWeight": "normal", "titleColor": "#27389c"}
            }
          }
        },
        {
          "data": {"values": [{"w": "Insight"}]},
          "mark": {"type": "text", "fontSize": 85, "color": "#808080", "opacity": 0.34, "align": "center", "baseline": "alphabetic"},
          "encoding": {
            "x": {"datum": "2020-04-09", "type": "ordinal"},
            "y": {"datum": 76, "type": "quantitative"},
            "text": {"field": "w"}
          }
        }
      ]
    }
  ],
  "config": {
    "view": {"stroke": "#c9c9c9"},
    "axis": {"labelFont": "Liberation Sans", "labelFontSize": 8, "labelColor": "#1e1e1e", "titleFont": "Liberation Sans", "domain": false, "tickColor": "#8a8a8a", "gridWidth": 0.8},
    "text": {"font": "Liberation Sans"}
  }
}
